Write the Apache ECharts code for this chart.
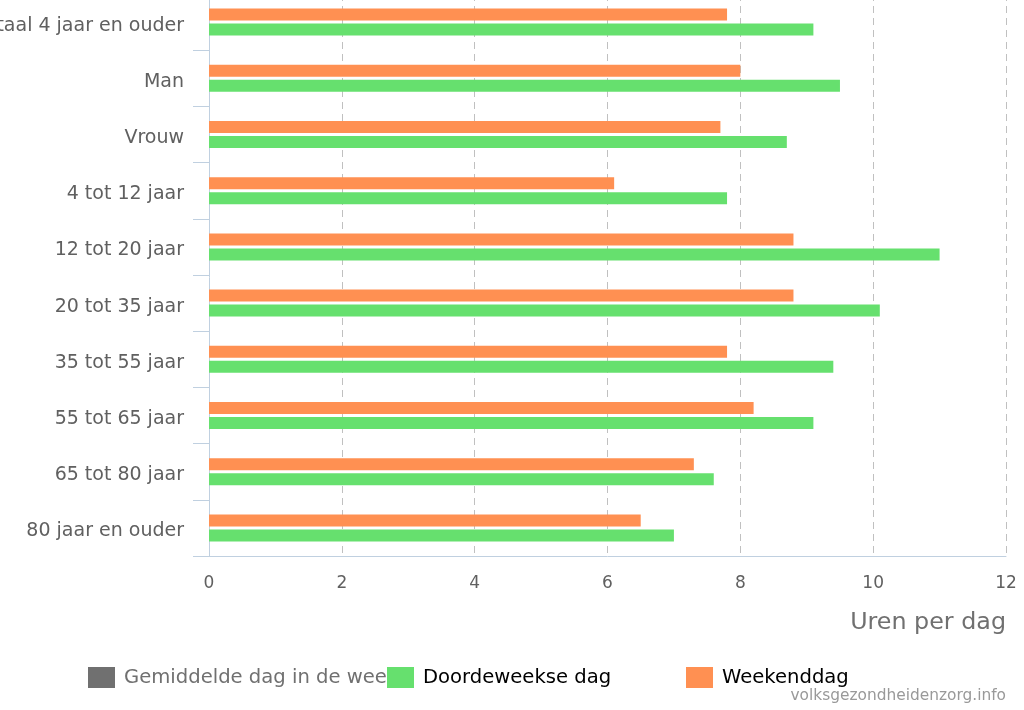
<!DOCTYPE html>
<html>
<head>
<meta charset="utf-8">
<script src="https://cdn.jsdelivr.net/npm/echarts@6/dist/echarts.min.js"></script>
<style>html,body{margin:0;padding:0;background:#fff;}#c{width:1024px;height:710px;}</style>
</head>
<body>
<div id="c"></div>
<script>
const categories = ['Totaal 4 jaar en ouder','Man','Vrouw','4 tot 12 jaar','12 tot 20 jaar','20 tot 35 jaar','35 tot 55 jaar','55 tot 65 jaar','65 tot 80 jaar','80 jaar en ouder'];
const weekenddag = [7.8, 8.0, 7.7, 6.1, 8.8, 8.8, 7.8, 8.2, 7.3, 6.5];
const doordeweeks = [9.1, 9.5, 8.7, 7.8, 11.0, 10.1, 9.4, 9.1, 7.6, 7.0];
const gemiddeld = [];
const xTicks = [0, 2, 4, 6, 8, 10, 12];

const font = 'DejaVu Sans, Verdana, sans-serif';
const chart = echarts.init(document.getElementById('c'), null, {renderer: 'canvas'});
const legendBase = {
  orient: 'horizontal', top: 667, padding: 0, itemWidth: 27, itemHeight: 21, icon: 'rect',
  inactiveColor: '#707070',
  textStyle: {fontFamily: font, fontSize: 19.6, color: '#000', padding: [0, 0, 0, 4]}
};
chart.setOption({
  animation: false,
  backgroundColor: '#fff',
  grid: {left: 209, right: 18, top: -6, bottom: 154, containLabel: false, outerBoundsMode: 'none'},
  legend: [
    Object.assign({}, legendBase, {left: 88, data: ['Gemiddelde dag in de week'], selected: {'Gemiddelde dag in de week': false}}),
    Object.assign({}, legendBase, {left: 387, data: ['Doordeweekse dag']}),
    Object.assign({}, legendBase, {left: 686, data: ['Weekenddag']})
  ],
  xAxis: {
    type: 'value', min: xTicks[0], max: xTicks[xTicks.length - 1], interval: 2,
    name: 'Uren per dag', nameLocation: 'end', nameGap: 0,
    nameTextStyle: {fontFamily: font, fontSize: 23.8, color: '#707070', align: 'right', verticalAlign: 'top', padding: [55, 0, 0, 0]},
    axisLine: {show: true, lineStyle: {color: '#C0D0E0', width: 1}},
    axisTick: {show: false},
    axisLabel: {fontFamily: font, fontSize: 17, color: '#606060', margin: 19},
    splitLine: {show: true, lineStyle: {color: '#C0C0C0', type: [7, 5], width: 1}}
  },
  yAxis: {
    type: 'category', data: categories, inverse: true,
    axisLine: {show: true, lineStyle: {color: '#C0D0E0', width: 1}},
    axisTick: {show: true, length: 16, lineStyle: {color: '#C0D0E0'}},
    axisLabel: {fontFamily: font, fontSize: 19, color: '#606060', margin: 25, verticalAlign: 'top', lineHeight: 7}
  },
  series: [
    {name: 'Gemiddelde dag in de week', type: 'bar', data: gemiddeld, itemStyle: {color: '#707070'}},
    {name: 'Weekenddag', type: 'bar', data: weekenddag, barWidth: 12, barGap: '25%', itemStyle: {color: '#FF9052'}},
    {name: 'Doordeweekse dag', type: 'bar', data: doordeweeks, barWidth: 12, barGap: '25%', itemStyle: {color: '#66E06E'}}
  ],
  graphic: [
    {type: 'text', right: 18, top: 688, style: {text: 'volksgezondheidenzorg.info', fontFamily: font, fontSize: 15.4, fill: '#999'}}
  ]
});
</script>
</body>
</html>
